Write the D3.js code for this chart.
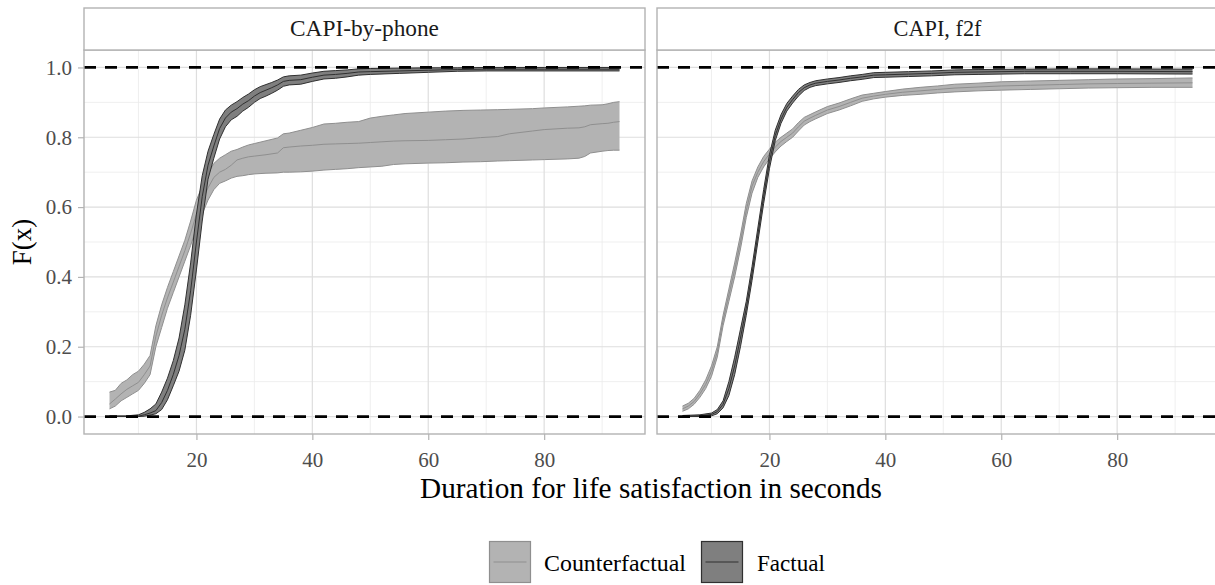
<!DOCTYPE html>
<html>
<head>
<meta charset="utf-8">
<script src="https://cdn.jsdelivr.net/npm/d3@7"></script>
<style>
  html, body { margin: 0; padding: 0; background: #ffffff; }
  svg { display: block; font-family: "Liberation Serif", "DejaVu Serif", serif; }
</style>
</head>
<body>
<svg id="chart" width="1215" height="585"></svg>
<script>
// ---------------- DATA ----------------
const panelNames = ["CAPI-by-phone", "CAPI, f2f"];
const seriesNames = ["Counterfactual", "Factual"];
const xTicks = [20, 40, 60, 80];
const xMinor = [10, 30, 50, 70, 90];
const yTicks = [0, 0.2, 0.4, 0.6, 0.8, 1.0];
const yMinor = [0.1, 0.3, 0.5, 0.7, 0.9];
const refLines = [0, 1];

// rows: [x, lower, F(x), upper]
const phoneCounterfactual = [
  [5,0.022,0.036,0.07],[6,0.03,0.05,0.075],[7,0.045,0.065,0.095],[8,0.055,0.078,0.105],
  [9,0.065,0.088,0.12],[10,0.075,0.098,0.13],[11,0.095,0.12,0.15],[12,0.12,0.145,0.175],
  [13,0.2,0.23,0.26],[14,0.255,0.29,0.32],[15,0.31,0.34,0.37],[16,0.355,0.385,0.415],
  [17,0.4,0.43,0.46],[18,0.445,0.475,0.505],[19,0.49,0.525,0.56],[20,0.54,0.58,0.62],
  [21,0.58,0.62,0.66],[22,0.62,0.655,0.695],[23,0.65,0.685,0.725],[24,0.668,0.7,0.74],
  [25,0.675,0.708,0.75],[26,0.683,0.72,0.76],[27,0.688,0.735,0.765],[28,0.69,0.74,0.772],
  [29,0.693,0.744,0.778],[30,0.695,0.746,0.782],[32,0.697,0.75,0.79],[34,0.698,0.755,0.798],
  [35,0.7,0.77,0.81],[36,0.7,0.772,0.812],[38,0.701,0.775,0.82],[40,0.703,0.777,0.828],
  [42,0.706,0.78,0.838],[44,0.708,0.781,0.84],[46,0.71,0.782,0.843],[48,0.713,0.783,0.845],
  [50,0.715,0.785,0.855],[52,0.717,0.787,0.86],[54,0.722,0.789,0.864],[56,0.724,0.79,0.868],
  [60,0.726,0.791,0.872],[63,0.727,0.793,0.875],[66,0.729,0.795,0.877],[69,0.73,0.799,0.878],
  [72,0.732,0.802,0.879],[74,0.733,0.81,0.88],[78,0.735,0.818,0.882],[80,0.736,0.822,0.884],
  [84,0.738,0.826,0.887],[86,0.74,0.827,0.889],[87,0.745,0.83,0.89],[88,0.755,0.836,0.892],
  [90,0.76,0.839,0.893],[91,0.762,0.84,0.896],[92,0.763,0.843,0.9],[93,0.763,0.845,0.902]
];
const phoneFactual = [
  [5,0,0,0.002],[8,0,0,0.002],[10,0,0.001,0.005],[11,0.001,0.005,0.012],[12,0.004,0.01,0.022],
  [13,0.008,0.017,0.036],[14,0.02,0.04,0.07],[15,0.048,0.075,0.11],[16,0.088,0.12,0.16],
  [17,0.13,0.175,0.225],[18,0.19,0.25,0.32],[19,0.29,0.36,0.44],[20,0.42,0.5,0.58],
  [21,0.56,0.63,0.69],[22,0.68,0.72,0.76],[23,0.74,0.775,0.808],[24,0.795,0.825,0.852],
  [25,0.83,0.855,0.878],[26,0.85,0.872,0.892],[27,0.86,0.882,0.902],[28,0.875,0.895,0.914],
  [29,0.886,0.905,0.924],[30,0.9,0.918,0.936],[31,0.911,0.928,0.945],[32,0.918,0.935,0.951],
  [33,0.926,0.942,0.957],[34,0.935,0.95,0.964],[35,0.946,0.96,0.973],[36,0.95,0.963,0.976],
  [38,0.952,0.965,0.978],[40,0.96,0.972,0.984],[42,0.967,0.978,0.989],[44,0.969,0.98,0.991],
  [46,0.973,0.983,0.993],[48,0.978,0.987,0.996],[50,0.98,0.988,0.997],[55,0.983,0.99,0.998],
  [60,0.986,0.992,0.999],[65,0.989,0.994,0.999],[70,0.99,0.995,1.0],[80,0.99,0.995,1.0],
  [93,0.99,0.995,1.0]
];
const f2fCounterfactual = [
  [5,0.015,0.022,0.03],[6,0.022,0.03,0.038],[7,0.035,0.043,0.052],[8,0.055,0.065,0.075],
  [9,0.08,0.092,0.105],[10,0.115,0.13,0.145],[11,0.17,0.185,0.2],[12,0.26,0.275,0.29],
  [13,0.33,0.348,0.365],[14,0.4,0.42,0.44],[15,0.48,0.5,0.52],[16,0.57,0.59,0.61],
  [17,0.64,0.66,0.675],[18,0.685,0.7,0.715],[19,0.715,0.73,0.745],[20,0.738,0.752,0.766],
  [21,0.758,0.772,0.786],[22,0.775,0.788,0.8],[23,0.788,0.8,0.812],[24,0.8,0.812,0.824],
  [25,0.818,0.83,0.842],[26,0.835,0.846,0.857],[27,0.845,0.855,0.865],[28,0.853,0.863,0.873],
  [30,0.868,0.878,0.888],[32,0.878,0.888,0.898],[34,0.89,0.9,0.91],[36,0.903,0.912,0.921],
  [38,0.91,0.918,0.926],[40,0.915,0.923,0.931],[43,0.92,0.929,0.938],[46,0.923,0.933,0.943],
  [49,0.927,0.937,0.947],[52,0.93,0.941,0.952],[56,0.933,0.944,0.955],[60,0.935,0.947,0.959],
  [65,0.937,0.949,0.961],[70,0.939,0.951,0.963],[75,0.941,0.953,0.965],[80,0.942,0.954,0.967],
  [86,0.943,0.955,0.968],[93,0.943,0.956,0.97]
];
const f2fFactual = [
  [5,0,0.001,0.003],[8,0,0.002,0.005],[10,0.002,0.006,0.01],[11,0.008,0.014,0.02],
  [12,0.025,0.035,0.045],[13,0.06,0.08,0.1],[14,0.12,0.145,0.17],[15,0.2,0.225,0.25],
  [16,0.29,0.31,0.33],[17,0.39,0.41,0.43],[18,0.5,0.52,0.54],[19,0.61,0.63,0.65],
  [20,0.71,0.73,0.75],[21,0.79,0.805,0.82],[22,0.84,0.852,0.865],[23,0.875,0.886,0.897],
  [24,0.898,0.908,0.918],[25,0.918,0.928,0.937],[26,0.934,0.942,0.95],[27,0.943,0.95,0.957],
  [28,0.948,0.955,0.962],[30,0.953,0.96,0.967],[32,0.957,0.964,0.971],[34,0.962,0.969,0.976],
  [36,0.966,0.973,0.98],[38,0.971,0.978,0.985],[40,0.972,0.979,0.986],[44,0.974,0.981,0.988],
  [48,0.976,0.983,0.99],[52,0.979,0.986,0.993],[56,0.98,0.987,0.994],[64,0.982,0.989,0.995],
  [72,0.982,0.989,0.996],[80,0.982,0.989,0.996],[93,0.981,0.988,0.995]
];

const panelData = [
  { name: panelNames[0], series: [phoneCounterfactual, phoneFactual] },
  { name: panelNames[1], series: [f2fCounterfactual, f2fFactual] }
];

// ---------------- STYLE / LAYOUT ----------------
const styles = [
  { fill: "#b3b3b3", edge: "#8f8f8f", line: "#8f8f8f" },   // Counterfactual
  { fill: "#7f7f7f", edge: "#303030", line: "#303030" }    // Factual
];
const panelX = [[84, 645], [657, 1218]];
const panelTop = 50, panelBottom = 434;
const stripTop = 8;
const xDomain = [0.6, 97.4];
const yDomain = [-0.05, 1.05];
const tickCol = "#4d4d4d", borderCol = "#b3b3b3";

const svg = d3.select("#chart");
const y = d3.scaleLinear().domain(yDomain).range([panelBottom, panelTop]);

function fitWidth(sel, target) {
  const base = parseFloat(sel.attr("font-size"));
  const w = sel.node().getComputedTextLength();
  if (w > 0) sel.attr("font-size", (base * target / w).toFixed(2));
}

const defs = svg.append("defs");

panelData.forEach((p, i) => {
  const [x0, x1] = panelX[i];
  const x = d3.scaleLinear().domain(xDomain).range([x0, x1]);
  const g = svg.append("g");

  defs.append("clipPath").attr("id", "clip" + i)
    .append("rect").attr("x", x0).attr("y", panelTop).attr("width", x1 - x0).attr("height", panelBottom - panelTop);

  // grid
  const grid = g.append("g");
  grid.selectAll(".xmin").data(xMinor).enter().append("line")
    .attr("x1", d => x(d)).attr("x2", d => x(d)).attr("y1", panelTop).attr("y2", panelBottom)
    .attr("stroke", "#ebebeb").attr("stroke-width", 0.8);
  grid.selectAll(".ymin").data(yMinor).enter().append("line")
    .attr("x1", x0).attr("x2", x1).attr("y1", d => y(d)).attr("y2", d => y(d))
    .attr("stroke", "#ebebeb").attr("stroke-width", 0.8);
  grid.selectAll(".xmaj").data(xTicks).enter().append("line")
    .attr("x1", d => x(d)).attr("x2", d => x(d)).attr("y1", panelTop).attr("y2", panelBottom)
    .attr("stroke", "#dedede").attr("stroke-width", 1.2);
  grid.selectAll(".ymaj").data(yTicks).enter().append("line")
    .attr("x1", x0).attr("x2", x1).attr("y1", d => y(d)).attr("y2", d => y(d))
    .attr("stroke", "#dedede").attr("stroke-width", 1.2);

  // ribbons
  const plot = g.append("g").attr("clip-path", `url(#clip${i})`);
  p.series.forEach((s, k) => {
    const st = styles[k];
    const area = d3.area().x(d => x(d[0])).y0(d => y(d[1])).y1(d => y(d[3]));
    const lo = d3.line().x(d => x(d[0])).y(d => y(d[1]));
    const hi = d3.line().x(d => x(d[0])).y(d => y(d[3]));
    const mid = d3.line().x(d => x(d[0])).y(d => y(d[2]));
    plot.append("path").attr("d", area(s)).attr("fill", st.fill).attr("stroke", "none");
    plot.append("path").attr("d", lo(s)).attr("fill", "none").attr("stroke", st.edge).attr("stroke-width", 1);
    plot.append("path").attr("d", hi(s)).attr("fill", "none").attr("stroke", st.edge).attr("stroke-width", 1);
    plot.append("path").attr("d", mid(s)).attr("fill", "none").attr("stroke", st.line).attr("stroke-width", 1);
  });

  // reference dashed lines
  plot.selectAll(".ref").data(refLines).enter().append("line")
    .attr("x1", x0).attr("x2", x1).attr("y1", d => y(d)).attr("y2", d => y(d))
    .attr("stroke", "#000").attr("stroke-width", 2.8).attr("stroke-dasharray", "12,9");

  // panel border
  g.append("rect").attr("x", x0).attr("y", panelTop).attr("width", x1 - x0).attr("height", panelBottom - panelTop)
    .attr("fill", "none").attr("stroke", borderCol).attr("stroke-width", 1.4);

  // strip
  g.append("rect").attr("x", x0).attr("y", stripTop).attr("width", x1 - x0).attr("height", panelTop - stripTop)
    .attr("fill", "#ffffff").attr("stroke", borderCol).attr("stroke-width", 1.4);
  const st = g.append("text").attr("x", (x0 + x1) / 2).attr("y", 36)
    .attr("text-anchor", "middle").attr("font-size", 20).attr("fill", "#1a1a1a").text(p.name);
  fitWidth(st, i === 0 ? 149 : 88);

  // x axis
  const xa = g.append("g").attr("transform", `translate(0,${panelBottom})`)
    .call(d3.axisBottom(x).tickValues(xTicks).tickSize(6).tickPadding(12).tickFormat(d3.format("d")));
  xa.select(".domain").remove();
  xa.selectAll(".tick line").attr("stroke", borderCol).attr("stroke-width", 1.2);
  xa.selectAll(".tick text").attr("fill", tickCol).attr("font-size", 21)
    .attr("font-family", "Liberation Serif, DejaVu Serif, serif");

  // y axis on first panel only
  if (i === 0) {
    const ya = g.append("g").attr("transform", `translate(${x0},0)`)
      .call(d3.axisLeft(y).tickValues(yTicks).tickSize(6).tickPadding(6).tickFormat(d3.format(".1f")));
    ya.select(".domain").remove();
    ya.selectAll(".tick line").attr("stroke", borderCol).attr("stroke-width", 1.2);
    ya.selectAll(".tick text").attr("fill", tickCol).attr("font-size", 21)
      .attr("font-family", "Liberation Serif, DejaVu Serif, serif");
  }
});

// axis titles
const xt = svg.append("text").attr("x", 651).attr("y", 498).attr("text-anchor", "middle")
  .attr("font-size", 26).attr("fill", "#000").text("Duration for life satisfaction in seconds");
fitWidth(xt, 462);
svg.append("text").attr("transform", "translate(31,242) rotate(-90)").attr("text-anchor", "middle")
  .attr("font-size", 27).attr("fill", "#000").text("F(x)");

// legend
const legendKeys = [489.5, 701.5];
const legendLabelX = [544, 757];
const legendLabelW = [142, 68];
seriesNames.forEach((n, k) => {
  const st = styles[k];
  const kx = legendKeys[k], ky = 541.5, ks = 41;
  svg.append("rect").attr("x", kx).attr("y", ky).attr("width", ks).attr("height", ks)
    .attr("fill", st.fill).attr("stroke", st.edge).attr("stroke-width", 1.2);
  svg.append("line").attr("x1", kx + 4).attr("x2", kx + ks - 4).attr("y1", ky + ks / 2).attr("y2", ky + ks / 2)
    .attr("stroke", st.line).attr("stroke-width", 1.2);
  const t = svg.append("text").attr("x", legendLabelX[k]).attr("y", 571).attr("font-size", 22)
    .attr("fill", "#000").text(n);
  fitWidth(t, legendLabelW[k]);
});
</script>
</body>
</html>
